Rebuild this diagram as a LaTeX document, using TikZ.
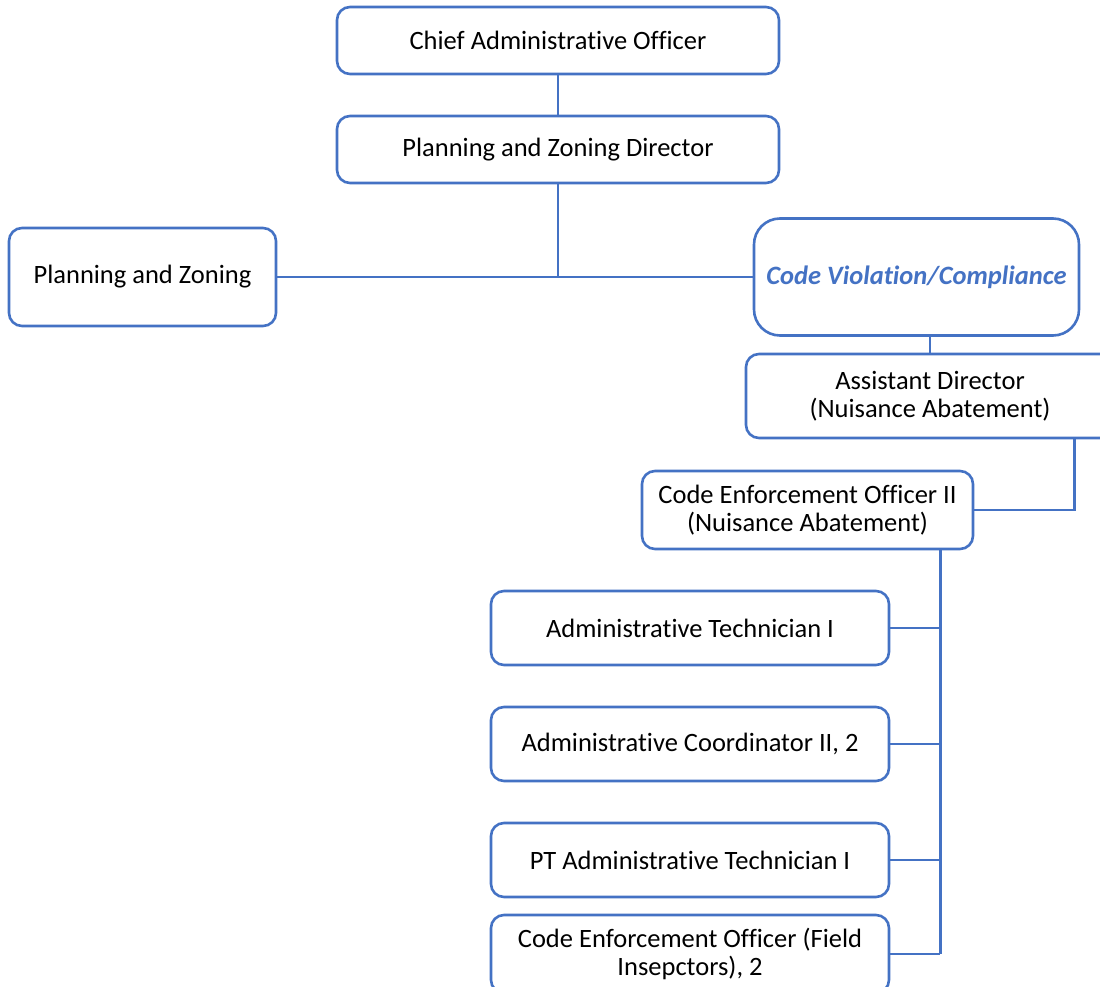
\documentclass[tikz,border=0pt]{standalone}
\usepackage{fontspec}
\setmainfont{Carlito}[Ligatures=NoCommon]
\definecolor{orgblue}{HTML}{4472C4}
\begin{document}
\begin{tikzpicture}[x=1pt,y=-1pt,
  box/.style={draw=orgblue, line width=2.6pt, rounded corners=13pt, fill=white,
    align=center, inner sep=0pt, font=\fontsize{26.5}{28}\selectfont},
  link/.style={draw=orgblue, line width=2.8pt}]
\useasboundingbox (0,0) rectangle (1100,987);
\begin{scope}
\clip (0,0) rectangle (1100,987);

% top of the chain
\node[box, minimum width=442pt, minimum height=67pt] (cao) at (558,40.5) {Chief Administrative Officer};
\node[box, minimum width=442pt, minimum height=67pt] (pzd) at (558,149.5) {Planning and Zoning Director};

% the two divisions
\node[box, minimum width=267pt, minimum height=98pt] (pz) at (142.5,277) {Planning and Zoning};
\node[box, minimum width=325pt, minimum height=117pt, rounded corners=26pt,
  text=orgblue, font=\fontsize{26.5}{28}\selectfont\bfseries\itshape] (cv) at (916.5,277) {Code Violation/Compliance};

% nuisance abatement chain
\node[box, minimum width=368pt, minimum height=84pt] (ad) at (930,396) {Assistant Director\\(Nuisance Abatement)};
\node[box, minimum width=331pt, minimum height=78pt] (ceo) at (807.5,510) {Code Enforcement Officer II\\(Nuisance Abatement)};

% staff
\node[box, minimum width=398pt, minimum height=74pt] (at) at (690,628) {Administrative Technician I};
\node[box, minimum width=398pt, minimum height=74pt] (ac) at (690,744) {Administrative Coordinator II, 2};
\node[box, minimum width=398pt, minimum height=74pt] (pt) at (690,860) {PT Administrative Technician I};
\node[box, minimum width=398pt, minimum height=78pt] (fi) at (690,954) {Code Enforcement Officer (Field\\Insepctors), 2};

% connectors
\draw[link] (cao.south) -- (pzd.north);
\coordinate (split) at (pzd.south |- pz.east);
\draw[link] (pzd.south) -- (split);
\draw[link] (pz.east) -- (cv.west);
\draw[link] (cv.south -| ad.north) -- (ad.north);
\coordinate (adlink) at ([xshift=-41pt]ad.south east);
\draw[link] (adlink) |- (ceo.east);
\coordinate (bus) at ([xshift=-34pt]ceo.south east);
\draw[link] (bus) -- (bus |- fi.east);
\draw[link] (at.east) -- (at.east -| bus);
\draw[link] (ac.east) -- (ac.east -| bus);
\draw[link] (pt.east) -- (pt.east -| bus);
\draw[link] (fi.east) -- (fi.east -| bus);
\end{scope}
\end{tikzpicture}
\end{document}
